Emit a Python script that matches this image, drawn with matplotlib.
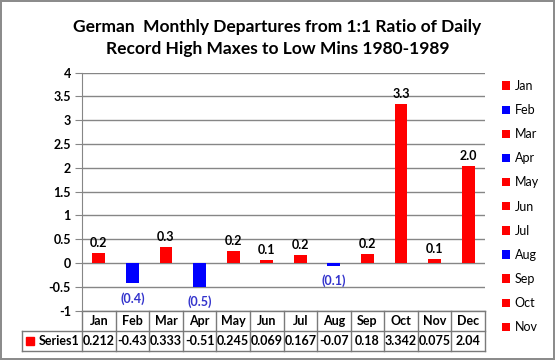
import matplotlib
matplotlib.use('Agg')
import matplotlib.pyplot as plt
import matplotlib.transforms as mtransforms
from matplotlib.patches import Patch

months = ['Jan', 'Feb', 'Mar', 'Apr', 'May', 'Jun', 'Jul', 'Aug', 'Sep', 'Oct', 'Nov', 'Dec']
values = [0.212, -0.43, 0.333, -0.51, 0.245, 0.069, 0.167, -0.07, 0.18, 3.342, 0.075, 2.04]
series_name = 'Series1'
yticks = [-1, -0.5, 0, 0.5, 1, 1.5, 2, 2.5, 3, 3.5, 4]
ytick_labels = ['-1', '-0.5', '0', '0.5', '1', '1.5', '2', '2.5', '3', '3.5', '4']
title = 'German  Monthly Departures from 1:1 Ratio of Daily\nRecord High Maxes to Low Mins 1980-1989'

RED = '#ff0000'
BLUE = '#0000ff'
LBLUE = '#3333cc'
GRID = '#868686'
TBL = '#7a7a7a'

plt.rcParams['font.family'] = ['Lato', 'DejaVu Sans']

W, H = 555, 360
fig = plt.figure(figsize=(W / 100, H / 100), dpi=100, facecolor='white',
                 edgecolor='#8c8c8c', linewidth=1.5)

# plot area in pixels
px0, px1, py_top, py_bot = 82, 485, 72.7, 310.6
ax = fig.add_axes([px0 / W, 1 - py_bot / H, (px1 - px0) / W, (py_bot - py_top) / H])

cols = [RED if v >= 0 else BLUE for v in values]
x = list(range(len(months)))
ax.bar(x, values, width=0.38, color=cols, zorder=3)

for xi, v in zip(x, values):
    if v >= 0:
        ax.annotate('%.1f' % v, (xi, v), xytext=(0, 3), textcoords='offset points',
                    ha='center', va='bottom', fontsize=9, fontweight='bold', color='black')
    else:
        ax.annotate('(%.1f)' % abs(v), (xi, v), xytext=(0, -6), textcoords='offset points',
                    ha='center', va='top', fontsize=9, fontweight='bold', color=LBLUE)

ax.set_xlim(-0.5, len(months) - 0.5)
ax.set_ylim(-1, 4)
ax.set_yticks(yticks)
ax.set_yticklabels(ytick_labels, fontsize=9, fontweight='bold')
ax.set_xticks([])
ax.yaxis.grid(True, color=GRID, linewidth=1)
ax.set_axisbelow(True)
for s in ['top', 'right', 'bottom']:
    ax.spines[s].set_visible(False)
ax.spines['left'].set_color(GRID)
ax.tick_params(axis='y', direction='out', length=5, color=GRID, pad=3)

# data table under the chart: x in data units, y in axes units
tr = mtransforms.blended_transform_factory(ax.transData, ax.transAxes)
col_w = (px1 - px0) / len(months)
ah = py_bot - py_top
r1 = -20 / ah
r2 = -40 / ah
xl = -0.5 - (px0 - 22) / col_w
xr = len(months) - 0.5
kw = dict(color=TBL, linewidth=1, transform=tr, clip_on=False)
ax.plot([-0.5, xr], [0, 0], **kw)
ax.plot([xl, xr], [r1, r1], **kw)
ax.plot([xl, xr], [r2, r2], **kw)
ax.plot([xl, xl], [r1, r2], **kw)
for i in range(len(months) + 1):
    ax.plot([i - 0.5, i - 0.5], [0, r2], **kw)
for i, m in enumerate(months):
    ax.text(i, r1 / 2, m, transform=tr, ha='center', va='center', fontsize=9,
            fontweight='bold', clip_on=False)
    ax.text(i, (r1 + r2) / 2, str(values[i]), transform=tr, ha='center', va='center',
            fontsize=9, fontweight='bold', clip_on=False)
ax.text(-0.5 - 0.08, (r1 + r2) / 2, series_name, transform=tr, ha='right', va='center',
        fontsize=9, fontweight='bold', clip_on=False)
ax.plot([xl + 0.25], [(r1 + r2) / 2], 's', color=RED, markersize=6, transform=tr,
        clip_on=False)

# legend (Dec falls off the bottom, as in the original)
handles = [Patch(facecolor=c, edgecolor='none') for c in cols[:11]]
fig.legend(handles, months[:11], loc='upper left', bbox_to_anchor=(502 / W, 1 - 80 / H),
           frameon=False, fontsize=9, handlelength=0.65, handleheight=0.65,
           handletextpad=0.35, labelspacing=0.97, borderpad=0, borderaxespad=0)

fig.text(0.5, 1 - 38 / H, title, ha='center', va='center', fontsize=12.5,
         fontweight='bold', linespacing=1.4)

fig.savefig('out.png', dpi=100)
